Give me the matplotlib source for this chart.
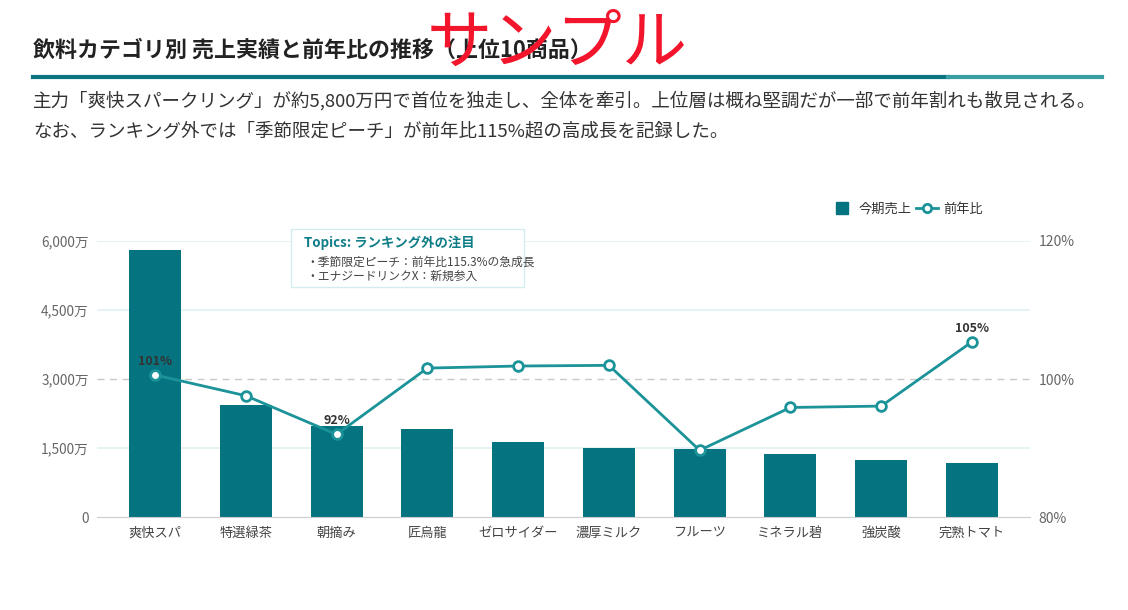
import matplotlib
matplotlib.use("Agg")
import matplotlib.pyplot as plt
from matplotlib.lines import Line2D
from matplotlib.patches import Rectangle
from matplotlib.ticker import FuncFormatter

plt.rcParams['font.family'] = ['Noto Sans CJK JP', 'DejaVu Sans']

# データ
商品 = ["爽快スパ", "特選緑茶", "朝摘み", "匠烏龍", "ゼロサイダー",
       "濃厚ミルク", "フルーツ", "ミネラル碧", "強炭酸", "完熟トマト"]
今期売上 = [5800, 2440, 1980, 1910, 1640, 1500, 1480, 1380, 1240, 1170]  # 万円
前年比 = [100.6, 97.6, 92.0, 101.6, 101.9, 102.0, 89.7, 95.9, 96.1, 105.4]  # %
ラベル表示 = [0, 2, 9]
売上目盛 = [0, 1500, 3000, 4500, 6000]
比率目盛 = [80, 100, 120]

タイトル = "飲料カテゴリ別 売上実績と前年比の推移（上位10商品）"
説明1 = "主力「爽快スパークリング」が約5,800万円で首位を独走し、全体を牽引。上位層は概ね堅調だが一部で前年割れも散見される。"
説明2 = "なお、ランキング外では「季節限定ピーチ」が前年比115%超の高成長を記録した。"
トピック = ["・季節限定ピーチ：前年比115.3%の急成長", "・エナジードリンクX：新規参入"]

棒色 = "#067480"
線色 = "#1b9399"

W, H = 1128, 610
fig = plt.figure(figsize=(W / 100, H / 100), dpi=100)
ax = fig.add_axes([97 / W, 1 - 517.3 / H, 933 / W, 276.3 / H])

x = range(len(商品))
ax.bar(x, 今期売上, width=0.573, color=棒色, zorder=2)
ax.set_xlim(-0.64, len(商品) - 0.36)
ax.set_ylim(0, 6000)
ax.set_yticks(売上目盛)
ax.yaxis.set_major_formatter(FuncFormatter(lambda v, p: "0" if v == 0 else f"{int(v):,}万"))
ax.set_xticks(list(x))
ax.set_xticklabels(商品, fontsize=9.5, color="#444444")
ax.tick_params(axis="y", length=0, pad=6, labelsize=9.8, labelcolor="#666666")
ax.tick_params(axis="x", length=0, pad=7)
for s in ["top", "right", "left"]:
    ax.spines[s].set_visible(False)
ax.spines["bottom"].set_color("#cccccc")
for v in 売上目盛[1:]:
    if v == 3000:
        ax.axhline(v, color="#c8c8c8", lw=1, ls=(0, (5, 4)), zorder=1)
    else:
        ax.axhline(v, color="#e2f1f3", lw=1.2, zorder=1)

ax2 = ax.twinx()
ax2.plot(x, 前年比, color=線色, lw=2, marker="o", ms=7, mfc="white",
         mec=線色, mew=2, zorder=3)
ax2.set_ylim(80, 120)
ax2.set_yticks(比率目盛)
ax2.yaxis.set_major_formatter(FuncFormatter(lambda v, p: f"{int(v)}%"))
ax2.tick_params(axis="y", length=0, pad=6, labelsize=10, labelcolor="#666666")
for s in ax2.spines.values():
    s.set_visible(False)
for i in ラベル表示:
    ax2.annotate(f"{前年比[i]:.0f}%", (i, 前年比[i]), xytext=(0, 5),
                 textcoords="offset points", ha="center", va="bottom",
                 fontsize=9, fontweight="bold", color="#333333")

# 凡例
handles = [Line2D([], [], ls="none", marker="s", ms=8.5, color=棒色),
           Line2D([], [], color=線色, lw=2, marker="o", ms=6, mfc="white", mec=線色, mew=2)]
fig.legend(handles, ["今期売上", "前年比"], loc="center", bbox_to_anchor=(907 / W, 1 - 209 / H),
           ncol=2, frameon=False, fontsize=9.5, handlelength=1.7, handletextpad=0.4,
           columnspacing=0.3, labelcolor="#333333")

# タイトル・説明
fig.text(33 / W, 1 - 50 / H, タイトル, fontsize=15.8, fontweight="bold", color="#222222", va="center")
fig.add_artist(Line2D([33 / W, 948 / W], [1 - 77 / H] * 2, color="#0b7480", lw=3))
fig.add_artist(Line2D([948 / W, 1102 / W], [1 - 77 / H] * 2, color="#3a9ea5", lw=3))
fig.text(33 / W, 1 - 101 / H, 説明1, fontsize=13.3, color="#333333", va="center")
fig.text(33 / W, 1 - 131 / H, 説明2, fontsize=13.3, color="#333333", va="center")

# トピック枠
fig.add_artist(Rectangle((291 / W, 1 - 287 / H), 233 / W, 58 / H, transform=fig.transFigure,
                         facecolor="white", edgecolor="#d6ebed", lw=1, zorder=5))
fig.text(304 / W, 1 - 243 / H, "Topics: ランキング外の注目", fontsize=9.6, fontweight="bold",
         color="#0f7d87", va="center", zorder=6)
for j, t in enumerate(トピック):
    fig.text(306 / W, 1 - (262 + 14 * j) / H, t, fontsize=8.5, color="#444444", va="center", zorder=6)

# 透かし
fig.text(557 / W, 1 - 45 / H, "サンプル", fontsize=47, color="#f2152b", ha="center", va="center", zorder=10)

fig.savefig("out.png", dpi=100)
